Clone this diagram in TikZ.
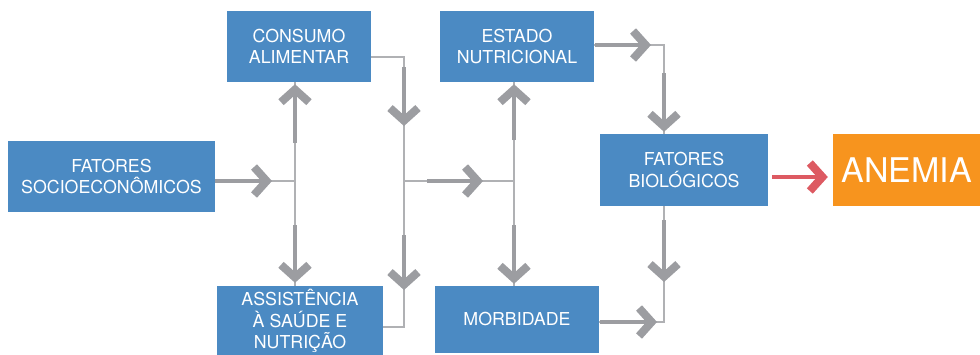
\documentclass[tikz,border=0pt]{standalone}
\usepackage{fontspec}
\setmainfont{TeX Gyre Heros}
\usepackage{tikz}
\usetikzlibrary{positioning, arrows.meta}
\definecolor{boxblue}{HTML}{4B8AC3}
\definecolor{anemiaorange}{HTML}{F7941E}
\definecolor{wiregray}{HTML}{B0B1B4}
\definecolor{swooshgray}{HTML}{9C9DA1}
\definecolor{swooshred}{HTML}{DD5A62}
\tikzset{
    >=Stealth,
    wire/.style={draw=wiregray, line width=1.4pt},
    swoosh/.style={draw=swooshgray, line width=4.5pt,
        arrows={-Straight Barb[length=9pt,width=20pt,line width=8pt,scale=1.4]}},
    factor/.style={fill=boxblue, text=white, align=center,
        font=\fontsize{17.8}{21.5}\selectfont, inner sep=0pt}
}

\begin{document}
\begin{tikzpicture}[x=1pt, y=-1pt]
\useasboundingbox (0,0) rectangle (980,354);

\node[factor, minimum width=207pt, minimum height=71pt] (socio) at (111.5,176.5) {FATORES\\SOCIOECONÔMICOS};
\node[factor, minimum width=144pt, minimum height=71pt] (consumo) at (299,46.5) {CONSUMO\\ALIMENTAR};
\node[factor, minimum width=166pt, minimum height=70pt] (assist) at (300,321) {ASSISTÊNCIA\\À SAÚDE E\\NUTRIÇÃO};
\node[factor, minimum width=154pt, minimum height=71pt] (estado) at (517,46.5) {ESTADO\\NUTRICIONAL};
\node[factor, minimum width=164pt, minimum height=67pt] (morbid) at (517,319.5) {MORBIDADE};
\node[factor, minimum width=168pt, minimum height=72pt] (bio) at (684,170) {FATORES\\BIOLÓGICOS};
\node[factor, fill=anemiaorange, font=\fontsize{34}{40}\selectfont,
    minimum width=147pt, minimum height=72pt] (anemia) at (906.5,170) {ANEMIA};

\coordinate (j1) at (295,181);
\coordinate (k1) at (404,57);
\coordinate (k2) at (404,181);
\coordinate (k3) at (404,327);
\coordinate (j3) at (514,181);
\coordinate (m1) at (664,45);
\coordinate (m2) at (664,322);

% Lines
\draw[wire] (socio.east |- j1) -- (j1);
\draw[wire] (consumo.south -| j1) -- (assist.north -| j1);
\draw[wire] (consumo.east |- k1) -- (k1) -- (k3) -- (assist.east |- k3);
\draw[wire] (k2) -- (j3);
\draw[wire] (estado.south -| j3) -- (morbid.north -| j3);
\draw[wire] (estado.east |- m1) -- (m1) -- (bio.north -| m1);
\draw[wire] (bio.south -| m2) -- (m2) -- (morbid.east |- m2);

% Arrows
\draw[swoosh, shorten >=23pt] (socio.east |- j1) -- (j1);
\draw[swoosh, shorten <=38pt, shorten >=2pt] (j1) -- (consumo.south -| j1);
\draw[swoosh, shorten <=44pt, shorten >=3pt] (j1) -- (assist.north -| j1);
\draw[swoosh, shorten <=10pt, shorten >=55pt] (k1) -- (k2);
\draw[swoosh, shorten <=54pt, shorten >=37pt] (k2) -- (k3);
\draw[swoosh, shorten <=23pt, shorten >=31pt] (k2) -- (j3);
\draw[swoosh, shorten <=41pt, shorten >=2pt] (j3) -- (estado.south -| j3);
\draw[swoosh, shorten <=44pt, shorten >=2pt] (j3) -- (morbid.north -| j3);
\draw[swoosh, shorten <=1pt, shorten >=13pt] (estado.east |- m1) -- (m1);
\draw[swoosh, shorten <=28pt, shorten >=2pt] (m1) -- (bio.north -| m1);
\draw[swoosh, shorten <=14pt, shorten >=40pt] (bio.south -| m2) -- (m2);
\draw[swoosh, shorten <=1pt, shorten >=7pt] (morbid.east |- m2) -- (m2);
\draw[swoosh, draw=swooshred, shorten <=4pt, shorten >=5pt] (bio.east |- 0,177) -- (anemia.west |- 0,177);

\end{tikzpicture}
\end{document}
